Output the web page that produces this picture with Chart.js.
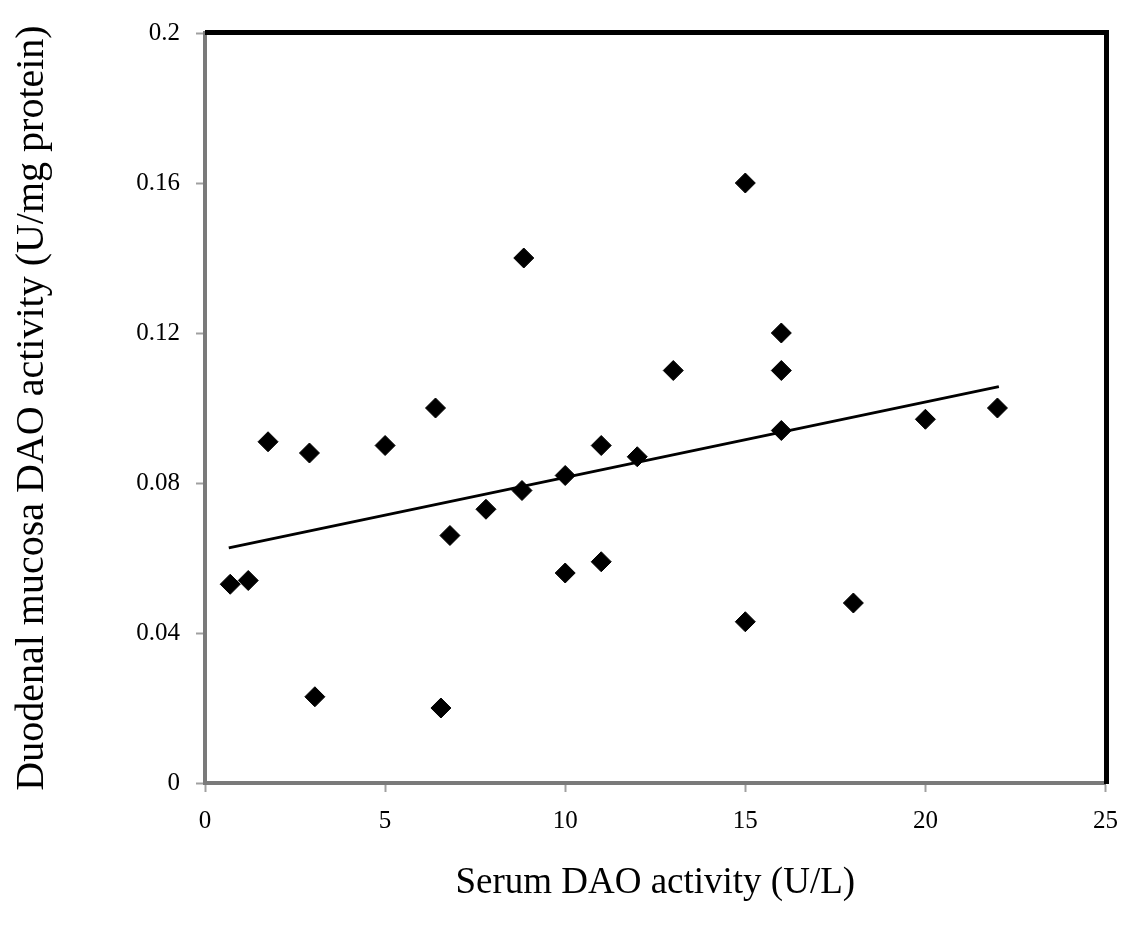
<!DOCTYPE html>
<html>
<head>
<meta charset="utf-8">
<script src="https://cdn.jsdelivr.net/npm/chart.js@4/dist/chart.umd.min.js"></script>
<style>
  html, body { margin: 0; padding: 0; background: #fff; }
  #wrap { width: 1132px; height: 938px; }
</style>
</head>
<body>
<div id="wrap"><canvas id="daoChart" width="1132" height="938"></canvas></div>
<script>
// serum DAO (U/L) vs duodenal mucosa DAO (U/mg protein)
const serumDao = [0.7, 1.2, 1.75, 2.9, 3.05, 5, 6.4, 6.55, 6.8, 7.8, 8.8, 8.85, 10, 10, 11, 11, 12, 13, 15, 15, 16, 16, 16, 18, 20, 22];
const mucosaDao = [0.053, 0.054, 0.091, 0.088, 0.023, 0.090, 0.100, 0.020, 0.066, 0.073, 0.078, 0.140, 0.082, 0.056, 0.090, 0.059, 0.087, 0.110, 0.160, 0.043, 0.120, 0.110, 0.094, 0.048, 0.097, 0.100];

// linear trend line end points
const trendX = [0.66, 22.04];
const trendY = [0.0627, 0.1057];

const xTicks = [0, 5, 10, 15, 20, 25];
const yTicks = [0, 0.04, 0.08, 0.12, 0.16, 0.2];

const xTitle = 'Serum DAO activity (U/L)';
const yTitle = 'Duodenal mucosa DAO activity (U/mg protein)';

const serif = '"Liberation Serif", "Times New Roman", serif';

let points = serumDao.map(function(x, i) { return { x: x, y: mucosaDao[i] }; });
let trend = trendX.map(function(x, i) { return { x: x, y: trendY[i] }; });

// thick black top and right frame, like the original
const frameLines = {
  id: 'frameLines',
  afterDraw: function(chart) {
    const a = chart.chartArea;
    const ctx = chart.ctx;
    ctx.save();
    ctx.strokeStyle = '#000';
    ctx.lineWidth = 5;
    ctx.beginPath();
    ctx.moveTo(a.left, a.top - 0.5);
    ctx.lineTo(a.right + 1, a.top - 0.5);
    ctx.lineTo(a.right + 1, a.bottom + 1);
    ctx.stroke();
    ctx.restore();
  }
};

function plainNumber(value) {
  return String(Number(value.toFixed(2)));
}

const ctx = document.getElementById('daoChart').getContext('2d');
new Chart(ctx, {
  type: 'scatter',
  data: {
    datasets: [{
      label: 'samples',
      data: points,
      pointStyle: 'rectRot',
      pointRadius: 10,
      pointBackgroundColor: '#000',
      pointBorderColor: '#000',
      pointBorderWidth: 1,
      order: 1
    }, {
      label: 'trend',
      data: trend,
      showLine: true,
      borderColor: '#000',
      borderWidth: 3,
      pointRadius: 0,
      fill: false,
      order: 2
    }]
  },
  plugins: [frameLines],
  options: {
    responsive: false,
    maintainAspectRatio: false,
    animation: false,
    layout: { padding: { top: 33, right: 24, bottom: 0, left: 0 } },
    plugins: {
      legend: { display: false },
      tooltip: { enabled: false }
    },
    scales: {
      x: {
        type: 'linear',
        min: 0,
        max: 25,
        afterBuildTicks: function(scale) {
          scale.ticks = xTicks.map(function(v) { return { value: v }; });
        },
        afterFit: function(scale) { scale.height = 155; },
        grid: { drawOnChartArea: false, drawTicks: true, tickLength: 9, tickColor: '#a0a0a0', tickWidth: 2 },
        border: { display: true, color: '#7a7a7a', width: 4 },
        ticks: { color: '#000', padding: 14, font: { family: serif, size: 25 }, callback: plainNumber },
        title: {
          display: true,
          text: xTitle,
          color: '#000',
          font: { family: serif, size: 37 },
          padding: { top: 0, bottom: 33 }
        }
      },
      y: {
        type: 'linear',
        min: 0,
        max: 0.2,
        afterBuildTicks: function(scale) {
          scale.ticks = yTicks.map(function(v) { return { value: v }; });
        },
        afterFit: function(scale) { scale.width = 205; },
        grid: { drawOnChartArea: false, drawTicks: true, tickLength: 9, tickColor: '#a0a0a0', tickWidth: 2 },
        border: { display: true, color: '#7a7a7a', width: 4 },
        ticks: { color: '#000', padding: 16, font: { family: serif, size: 25 }, callback: plainNumber },
        title: {
          display: true,
          text: yTitle,
          color: '#000',
          font: { family: serif, size: 40 },
          padding: { top: 8, bottom: 0 }
        }
      }
    }
  }
});
</script>
</body>
</html>
